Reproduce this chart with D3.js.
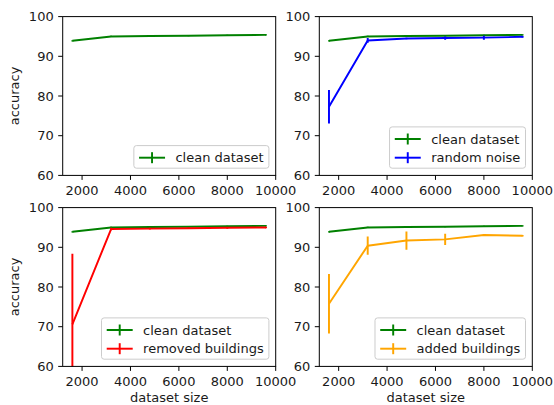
<!DOCTYPE html>
<html>
<head>
<meta charset="utf-8">
<script src="https://cdn.jsdelivr.net/npm/d3@7"></script>
<style>
  body { margin: 0; background: #fff; }
  svg text { font-family: "DejaVu Sans", sans-serif; fill: #1a1a1a; }
</style>
</head>
<body>
<svg id="chart" width="554" height="405"></svg>
<script>
// dataset sizes on the x axis
const sizes = [1600, 3200, 4800, 6400, 8000, 9600];

// accuracy means and error half-widths
const cleanAcc   = [93.9, 95.0, 95.1, 95.2, 95.3, 95.4];
const cleanErr   = [0.15, 0.15, 0.15, 0.15, 0.15, 0.15];
const noiseAcc   = [77.3, 94.0, 94.5, 94.6, 94.7, 94.9];
const noiseErr   = [4.2, 0.6, 0.2, 0.4, 0.5, 0.2];
const removedAcc = [70.6, 94.6, 94.7, 94.8, 94.9, 95.0];
const removedErr = [17.8, 0.3, 0.2, 0.2, 0.2, 0.2];
const addedAcc   = [75.8, 90.4, 91.7, 92.0, 93.1, 92.9];
const addedErr   = [7.5, 2.3, 2.3, 1.4, 0.2, 0.2];

const xTicks = [2000, 4000, 6000, 8000, 10000];
const yTicks = [60, 70, 80, 90, 100];

const clean = {label: "clean dataset", color: "green", acc: cleanAcc, err: cleanErr};

const panels = [
  {x0: 62.7, y0: 16.6, series: [clean], ylabel: true, xlabel: false},
  {x0: 319.3, y0: 16.6, series: [clean, {label: "random noise", color: "blue", acc: noiseAcc, err: noiseErr}], ylabel: false, xlabel: false},
  {x0: 62.7, y0: 207.6, series: [clean, {label: "removed buildings", color: "red", acc: removedAcc, err: removedErr}], ylabel: true, xlabel: true},
  {x0: 319.3, y0: 207.6, series: [clean, {label: "added buildings", color: "orange", acc: addedAcc, err: addedErr}], ylabel: false, xlabel: true}
];

const W = 213, H = 158.8;
const fs = 13;            // 10pt
const lw = 1.95;          // 1.5pt line width
const tickLen = 4.5, tickPad = 4.5;

const svg = d3.select("#chart");

panels.forEach(function (p, i) {
  let x = d3.scaleLinear().domain([1200, 10000]).range([p.x0, p.x0 + W]);
  let y = d3.scaleLinear().domain([60, 100]).range([p.y0 + H, p.y0]);

  let g = svg.append("g");

  g.append("clipPath").attr("id", "clip" + i)
    .append("rect").attr("x", p.x0).attr("y", p.y0).attr("width", W).attr("height", H);

  let plot = g.append("g").attr("clip-path", "url(#clip" + i + ")");

  let line = d3.line().x((d, k) => x(sizes[k])).y(d => y(d));

  p.series.forEach(function (s) {
    plot.append("path").datum(s.acc)
      .attr("d", line)
      .attr("fill", "none")
      .attr("stroke", s.color)
      .attr("stroke-width", lw)
      .attr("stroke-linejoin", "round");
    plot.selectAll(null).data(s.acc).enter().append("line")
      .attr("x1", (d, k) => x(sizes[k]))
      .attr("x2", (d, k) => x(sizes[k]))
      .attr("y1", (d, k) => y(d - s.err[k]))
      .attr("y2", (d, k) => y(d + s.err[k]))
      .attr("stroke", s.color)
      .attr("stroke-width", lw);
  });

  // ticks and labels
  xTicks.forEach(function (t) {
    g.append("line").attr("x1", x(t)).attr("x2", x(t))
      .attr("y1", p.y0 + H).attr("y2", p.y0 + H + tickLen)
      .attr("stroke", "#000").attr("stroke-width", 1);
    g.append("text").attr("x", x(t)).attr("y", p.y0 + H + 20)
      .attr("text-anchor", "middle").attr("font-size", fs).text(t);
  });
  yTicks.forEach(function (t) {
    g.append("line").attr("x1", p.x0 - tickLen).attr("x2", p.x0)
      .attr("y1", y(t)).attr("y2", y(t))
      .attr("stroke", "#000").attr("stroke-width", 1);
    g.append("text").attr("x", p.x0 - tickLen - tickPad).attr("y", y(t) + 4.7)
      .attr("text-anchor", "end").attr("font-size", fs).text(t);
  });

  // spines
  g.append("rect").attr("x", p.x0).attr("y", p.y0).attr("width", W).attr("height", H)
    .attr("fill", "none").attr("stroke", "#000").attr("stroke-width", 1);

  if (p.ylabel) {
    g.append("text")
      .attr("transform", "translate(" + (p.x0 - 43.5) + "," + (p.y0 + H / 2) + ") rotate(-90)")
      .attr("text-anchor", "middle").attr("font-size", fs).text("accuracy");
  }
  if (p.xlabel) {
    g.append("text").attr("x", p.x0 + W / 2).attr("y", p.y0 + H + 36)
      .attr("text-anchor", "middle").attr("font-size", fs).text("dataset size");
  }

  // legend, lower right
  let pad = 0.4 * fs, handleLen = 2 * fs, handlePad = 0.8 * fs, rowH = 12.2, rowGap = 0.5 * fs;
  let lg = g.append("g");
  let box = lg.append("rect");
  let labels = [];
  p.series.forEach(function (s, k) {
    labels.push(lg.append("text").attr("font-size", fs).text(s.label));
  });
  let textW = d3.max(labels, t => t.node().getComputedTextLength());
  let boxW = pad * 2 + handleLen + handlePad + textW;
  let boxH = pad * 2 + rowH * p.series.length + rowGap * (p.series.length - 1);
  let bx = p.x0 + W - 6.8 - boxW, by = p.y0 + H - 7.2 - boxH;
  box.attr("x", bx).attr("y", by).attr("width", boxW).attr("height", boxH)
    .attr("rx", 2.6).attr("fill", "#fff").attr("fill-opacity", 0.8)
    .attr("stroke", "#cccccc").attr("stroke-width", 1);
  p.series.forEach(function (s, k) {
    let cy = by + pad + rowH / 2 + k * (rowH + rowGap) + 0.8;
    let hx = bx + pad;
    lg.append("line").attr("x1", hx).attr("x2", hx + handleLen).attr("y1", cy).attr("y2", cy)
      .attr("stroke", s.color).attr("stroke-width", lw);
    lg.append("line").attr("x1", hx + handleLen / 2).attr("x2", hx + handleLen / 2)
      .attr("y1", cy - 5.5).attr("y2", cy + 5.5)
      .attr("stroke", s.color).attr("stroke-width", lw);
    labels[k].attr("x", hx + handleLen + handlePad).attr("y", cy + 4.6);
  });
});
</script>
</body>
</html>
